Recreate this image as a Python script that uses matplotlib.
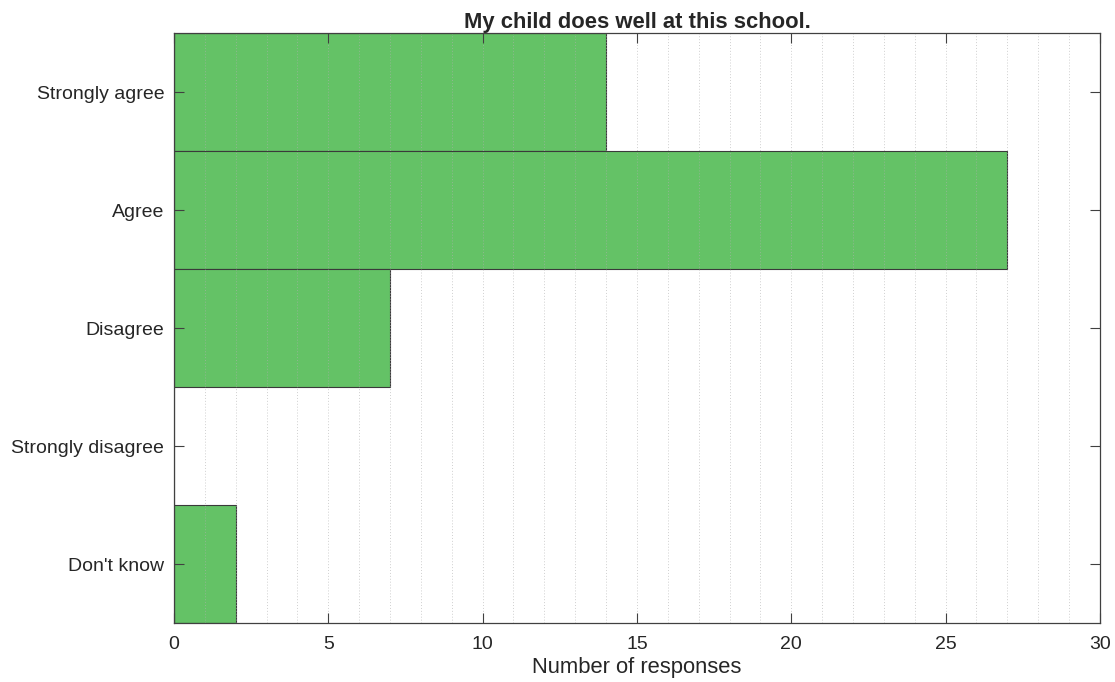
import numpy as np
import matplotlib.pyplot as plt
from matplotlib.ticker import MultipleLocator

categories = ['Strongly agree', 'Agree', 'Disagree', 'Strongly disagree', "Don't know"]
counts = [14, 27, 7, 0, 2]
x_ticks = [0, 5, 10, 15, 20, 25, 30]

plt.rcParams['font.family'] = ['Liberation Sans', 'DejaVu Sans']

fig = plt.figure(figsize=(11.15, 6.82), dpi=100)
ax = fig.add_axes([0.156, 0.0865, 0.8305, 0.865])

ypos = np.arange(len(categories))
ax.barh(ypos, counts, height=1.0, color='#64c266', edgecolor='#3a3a3a', linewidth=0.8, zorder=2)

ax.set_ylim(len(categories) - 0.5, -0.5)
ax.set_xlim(0, 30)
ax.set_yticks(ypos)
ax.set_yticklabels(categories, fontsize=14, color='#262626')
ax.set_xticks(x_ticks)
ax.set_xticklabels([str(t) for t in x_ticks], fontsize=14, color='#262626')
ax.xaxis.set_minor_locator(MultipleLocator(1))

# dotted grid on every unit, drawn over the bars like MATLAB
ax.grid(True, which='both', axis='x', linestyle=(0, (1, 2)), color='#b0b0b0', linewidth=0.7, alpha=0.6, zorder=3)
ax.set_axisbelow(False)

ax.tick_params(axis='both', which='major', direction='in', length=7, width=0.8, colors='#404040',
               top=True, right=True, labelsize=14, labelcolor='#262626')
ax.tick_params(axis='x', which='major', pad=9)
ax.tick_params(axis='y', which='major', pad=7)
ax.tick_params(axis='x', which='minor', length=0, top=True)
for sp in ax.spines.values():
    sp.set_color('#404040')
    sp.set_linewidth(0.9)
    sp.set_zorder(4)

ax.set_xlabel('Number of responses', fontsize=15.8, color='#262626', labelpad=3)
ax.set_title('My child does well at this school.', fontsize=15.8, fontweight='bold', color='#262626', pad=3)

fig.savefig('out.png', dpi=100)
